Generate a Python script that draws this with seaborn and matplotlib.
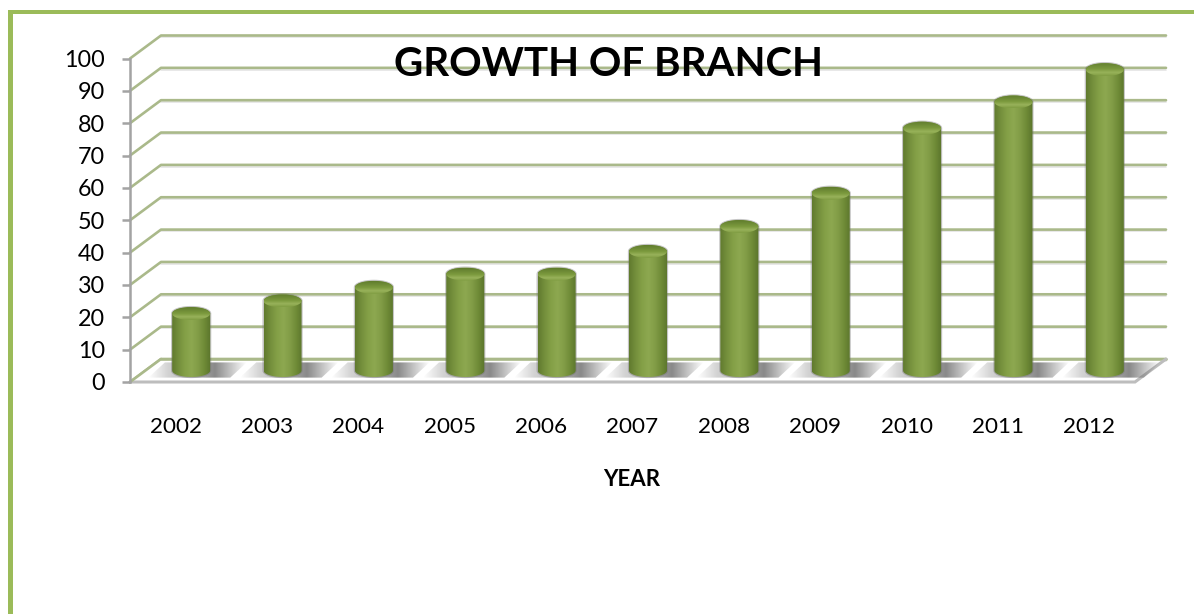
import numpy as np
import pandas as pd
import matplotlib
matplotlib.use("Agg")
import matplotlib.pyplot as plt
import seaborn as sns
from matplotlib.colors import LinearSegmentedColormap
from matplotlib.patches import Ellipse, PathPatch, Polygon, Rectangle
from matplotlib.path import Path

years = ["2002", "2003", "2004", "2005", "2006", "2007", "2008", "2009", "2010", "2011", "2012"]
branches = [17.6, 21.5, 25.7, 29.8, 29.8, 36.8, 44.5, 54.8, 74.9, 83, 93]
y_ticks = list(range(0, 101, 10))

W, H = 1194, 614
FRONT_L, FRONT_R = 130, 1135
Y0, Y100 = 382, 58.5
DX, DY = 31, 23
PX_PER_UNIT = (Y0 - Y100) / 100

GREEN = "#9BBB59"
GRID = "#AAB98A"
AXIS = "#A3A3A3"

sns.set_theme(style="white")
plt.rcParams["font.family"] = ["Lato", "DejaVu Sans"]

fig = plt.figure(figsize=(W / 100, H / 100), dpi=100, facecolor="white")


def axes_at(left, top, right, bottom, **kw):
    return fig.add_axes([left / W, 1 - bottom / H, (right - left) / W, (bottom - top) / H], **kw)


# picture frame, back wall and floor, in pixel coordinates
deco = axes_at(0, 0, W, H, zorder=0)
deco.set_xlim(0, W)
deco.set_ylim(H, 0)
deco.axis("off")
deco.add_patch(Rectangle((8, 10), 5, H - 10, color=GREEN, lw=0))
deco.add_patch(Rectangle((8, 10), W - 8, 3.5, color=GREEN, lw=0))

for t in y_ticks:
    y = Y0 - t * PX_PER_UNIT
    deco.plot([FRONT_L + DX, FRONT_R + DX], [y - DY + 1.8] * 2, color="#E4E4E4", lw=1.2, zorder=1)
    deco.plot([FRONT_L, FRONT_L + DX, FRONT_R + DX], [y, y - DY, y - DY], color=GRID, lw=1.9,
              solid_capstyle="round", solid_joinstyle="round", zorder=2)

floor_pts = [(FRONT_L, Y0), (FRONT_L + DX, Y0 - DY), (FRONT_R + DX, Y0 - DY), (FRONT_R, Y0)]
deco.add_patch(Polygon(floor_pts, closed=True, fc="white", ec="none", zorder=3))
deco.plot([FRONT_L + DX, FRONT_R + DX], [Y0 - DY] * 2, color=GRID, lw=1.9, zorder=4)
deco.plot([FRONT_L, FRONT_R, FRONT_R + DX], [Y0, Y0, Y0 - DY], color="#BDBDBD", lw=2.2,
          solid_joinstyle="miter", zorder=4)
deco.plot([FRONT_L, FRONT_L + DX], [Y0, Y0 - DY], color=GRID, lw=1.9, zorder=4)

# front plane: value axis and category labels
df = pd.DataFrame({"year": years, "branches": branches})
ax = axes_at(FRONT_L, Y100, FRONT_R, Y0, zorder=1)
ax.patch.set_alpha(0)
sns.barplot(data=df, x="year", y="branches", ax=ax, alpha=0)
ax.set_ylim(0, 100)
ax.set_yticks(y_ticks)
ax.set_xlabel("")
ax.set_ylabel("")
ax.tick_params(axis="y", length=6, width=1.8, color=AXIS, labelsize=16.8, pad=12, left=True, labelcolor="black")
ax.tick_params(axis="x", length=0, labelsize=16.2, pad=25, labelcolor="black")
for side in ["top", "right", "bottom"]:
    ax.spines[side].set_visible(False)
ax.spines["left"].set_color(AXIS)
ax.spines["left"].set_linewidth(1.8)

# cylinders stand halfway into the depth of the chart
bar_ax = axes_at(FRONT_L + DX / 2, Y100 - DY / 2, FRONT_R + DX / 2, Y0 - DY / 2, zorder=2)
bar_ax.patch.set_alpha(0)
sns.barplot(data=df, x="year", y="branches", ax=bar_ax, width=0.416, color="#8AA64B")
bar_ax.set_ylim(0, 100)
bar_ax.axis("off")

body_cmap = LinearSegmentedColormap.from_list(
    "body", ["#607A2E", "#748F3C", "#84A047", "#8DA850", "#829D47", "#6F8B37", "#5A742B"])
cap_cmap = LinearSegmentedColormap.from_list(
    "cap", ["#7F9C42", "#98B25A", "#7C9A3E", "#6E8B36", "#5F7B2C"])
grey = (0.42, 0.42, 0.42)
shadow_cmap = LinearSegmentedColormap.from_list(
    "shadow", [(0, (*grey, 0)), (0.2, (*grey, 0.3)), (0.5, (*grey, 0.55)), (0.68, (*grey, 0.8)), (1, (*grey, 0))])
grad = np.linspace(0, 1, 128)
cap_h = 13 / PX_PER_UNIT


def clip_image(image, patch):
    # images fall back on the axes box, the base of the cylinder hangs below it
    bar_ax.add_patch(patch)
    image.set_clip_box(fig.bbox)
    image.set_clip_path(patch)


for bar in list(bar_ax.patches):
    x0, w, top = bar.get_x(), bar.get_width(), bar.get_height()
    bar.set_visible(False)
    cx = x0 + w / 2
    rx, ry = w / 2, cap_h / 2
    # floor shadow behind the cylinder, sheared up to the back of the floor
    sx0, sx1 = x0 - 0.26, x0 + w + 0.4
    shadow = bar_ax.imshow(grad[None, :], extent=(sx0, sx1, -2.5, 2.7), cmap=shadow_cmap,
                           aspect="auto", zorder=1)
    clip_image(shadow, Polygon([(sx0, -2.2), (sx1 - 0.18, -2.2), (sx1, 2.5), (sx0 + 0.18, 2.5)], closed=True,
                               transform=bar_ax.transData, fc="none", ec="none"))
    # cylinder body with a soft grey rim
    t = np.linspace(np.pi, 2 * np.pi, 40)
    low = np.column_stack([cx + rx * np.cos(t), ry * np.sin(t)])
    upp = np.column_stack([cx - rx * np.cos(t), top + ry * np.sin(-t)])
    outline = Path(np.vstack([low, upp, low[:1]]))
    bar_ax.add_patch(PathPatch(outline, transform=bar_ax.transData, fc="none", ec="#707070", lw=1.6,
                               alpha=0.4, clip_on=False, zorder=1.5))
    body = bar_ax.imshow(grad[None, :], extent=(x0, x0 + w, -cap_h, top + cap_h), cmap=body_cmap,
                         aspect="auto", zorder=2)
    clip_image(body, PathPatch(outline, transform=bar_ax.transData, fc="none", ec="none"))
    # cylinder top
    cap = bar_ax.imshow(grad[:, None], extent=(x0, x0 + w, top - ry, top + ry), cmap=cap_cmap, origin="lower",
                        aspect="auto", zorder=3)
    clip_image(cap, Ellipse((cx, top), w, cap_h, transform=bar_ax.transData, fc="none", ec="none"))

bar_ax.set_xlim(-0.5, len(years) - 0.5)
bar_ax.set_ylim(0, 100)

fig.text(608 / W, 1 - 64 / H, "GROWTH OF BRANCH", fontsize=29, fontweight="bold", color="black",
         ha="center", va="center", zorder=5)
fig.text(632 / W, 1 - 479 / H, "YEAR", fontsize=16, fontweight="bold", color="black",
         ha="center", va="center")

fig.savefig("out.png", dpi=100)
plt.close(fig)
